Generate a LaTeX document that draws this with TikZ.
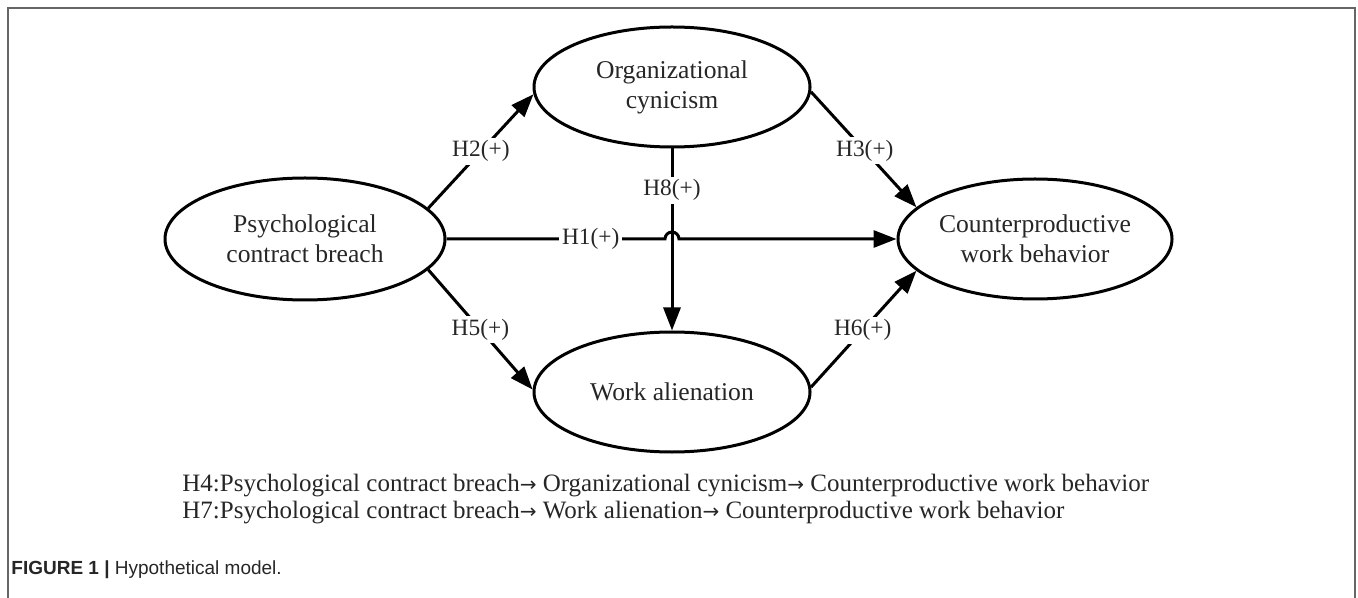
\documentclass[tikz,border=0pt]{standalone}
\usepackage{fontspec}
\setmainfont{Liberation Serif}
\setsansfont{Liberation Sans}
\newfontfamily\arrowfont{DejaVu Sans}
\usetikzlibrary{shapes.geometric,arrows.meta}
\newcommand{\smallarr}{{\arrowfont\fontsize{10}{10}\selectfont →}}
\begin{document}
\begin{tikzpicture}[x=0.5pt,y=-0.5pt,
  ell/.style={draw,line width=1.5pt,ellipse,inner sep=0pt,align=center,text=black!85,font=\fontsize{12.8}{15}\selectfont},
  conn/.style={line width=1.5pt,-{Triangle[length=11.5pt,width=8.5pt]}},
  lbl/.style={fill=white,inner sep=1.5pt,text=black!85,font=\fontsize{11.7}{13}\selectfont},
  frame/.style={draw=black!60,line width=1pt},
  bottomtext/.style={anchor=base west,inner sep=0pt,text=black!85,font=\fontsize{12.5}{14}\selectfont},
  captext/.style={anchor=base west,inner sep=0pt,text=black!85,font=\sffamily\fontsize{9.5}{11}\selectfont}]
\useasboundingbox (0,0) rectangle (1358,598);
\draw[frame] (8,598) -- (8,8) -- (1355,8) -- (1355,598);

\node[ell,minimum width=140pt,minimum height=61pt] (PCB) at (305,239) {Psychological\\contract breach};
\node[ell,minimum width=138pt,minimum height=60pt] (OC) at (672,87) {Organizational\\cynicism};
\node[ell,minimum width=138pt,minimum height=60pt] (WA) at (672,392) {Work alienation};
\node[ell,minimum width=137pt,minimum height=60pt] (CWB) at (1035,239) {Counterproductive\\work behavior};

\draw[conn] (PCB.14) -- node[lbl]{H2(+)} (OC.183);
\draw[conn] (PCB.346) -- node[lbl]{H5(+)} (WA.179);
\draw[conn] (OC.358) -- node[lbl,pos=0.51]{H3(+)} (CWB.165);
\draw[conn] (WA.2) -- node[lbl,pos=0.49]{H6(+)} (CWB.195);
\draw[conn] (OC.south) -- node[lbl,pos=0.23]{H8(+)} (WA.north);
\coordinate (hop) at (OC.south |- PCB.east);
\draw[conn] (PCB.east) -- node[lbl,pos=0.66]{H1(+)} ([xshift=-3.5pt]hop) arc[start angle=180,end angle=0,radius=3.5pt] -- (CWB.west);

\node[bottomtext] (h4) at (182,491) {H4:Psychological contract breach\smallarr\ Organizational cynicism\smallarr\ Counterproductive work behavior};
\node[bottomtext] (h7) at (182,518) {H7:Psychological contract breach\smallarr\ Work alienation\smallarr\ Counterproductive work behavior};
\node[captext] (cap) at (11,574) {\textbf{FIGURE 1 |} Hypothetical model.};
\end{tikzpicture}
\end{document}
